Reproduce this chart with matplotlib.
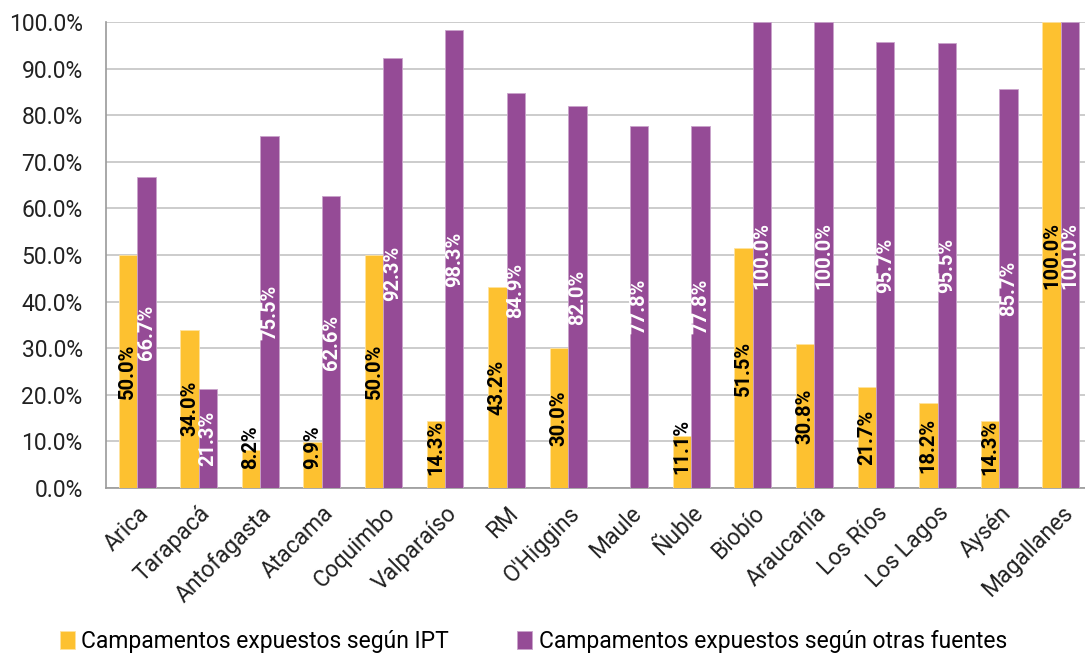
import matplotlib.pyplot as plt
import numpy as np

# Regions and values (%)
regions = ["Arica", "Tarapacá", "Antofagasta", "Atacama", "Coquimbo", "Valparaíso",
           "RM", "O'Higgins", "Maule", "Ñuble", "Biobío", "Araucanía", "Los Ríos",
           "Los Lagos", "Aysén", "Magallanes"]
ipt = [50.0, 34.0, 8.2, 9.9, 50.0, 14.3, 43.2, 30.0, np.nan, 11.1, 51.5, 30.8,
       21.7, 18.2, 14.3, 100.0]
otras = [66.7, 21.3, 75.5, 62.6, 92.3, 98.3, 84.9, 82.0, 77.8, 77.8, 100.0, 100.0,
         95.7, 95.5, 85.7, 100.0]
series_names = ["Campamentos expuestos según IPT",
                "Campamentos expuestos según otras fuentes"]

yellow = '#FDC130'
purple = '#954B96'
plt.rcParams['font.family'] = ['Roboto', 'DejaVu Sans']

fig = plt.figure(figsize=(10.85, 6.54), dpi=100)
ax = fig.add_axes([0.098, 0.254, 0.908, 0.712])

x = np.arange(len(regions))
w = 0.30
b1 = ax.bar(x - w / 2, ipt, w, color=yellow, edgecolor='#FFE3A0', linewidth=0.6,
            label=series_names[0], zorder=3)
b2 = ax.bar(x + w / 2, otras, w, color=purple, edgecolor='#C9A3CB', linewidth=0.6,
            label=series_names[1], zorder=3)

# Value labels, rotated, centred in the bar (kept off the axis for short bars)
for xs, vals, col in [(x - w / 2, ipt, 'black'), (x + w / 2, otras, 'white')]:
    for xi, v in zip(xs, vals):
        if np.isnan(v):
            continue
        ax.text(xi, max(v / 2, 8.8), f"{v:.1f}%", rotation=90, ha='center',
                va='center', color=col, fontsize=14.5, fontweight='bold',
                zorder=4)

ax.set_xlim(-0.5, len(regions) - 0.5)
ax.set_ylim(0, 100)
ax.set_yticks(np.arange(0, 101, 10))
ax.set_yticklabels([f"{t:.1f}%" for t in np.arange(0, 101, 10)], fontsize=16.5,
                   color='#222222')
ax.set_xticks(x)
ax.set_xticklabels(regions, rotation=45, ha='right', va='top',
                   rotation_mode='anchor', fontsize=16.5, color='#222222')
ax.tick_params(axis='both', length=0)
ax.tick_params(axis='y', pad=17)
ax.tick_params(axis='x', pad=10)
ax.grid(axis='y', color='#C4C4C4', linewidth=1.2, zorder=0)
for s in ['top', 'right']:
    ax.spines[s].set_visible(False)
for s in ['left', 'bottom']:
    ax.spines[s].set_color('#9A9A9A')
    ax.spines[s].set_linewidth(1.2)

fig.legend(handles=[b1, b2], loc='lower left', bbox_to_anchor=(0.036, -0.03),
           ncol=2, frameon=False, fontsize=16.5, handlelength=0.65,
           handleheight=0.85, handletextpad=0.3, columnspacing=2.95)

fig.savefig('out.png', dpi=100)
